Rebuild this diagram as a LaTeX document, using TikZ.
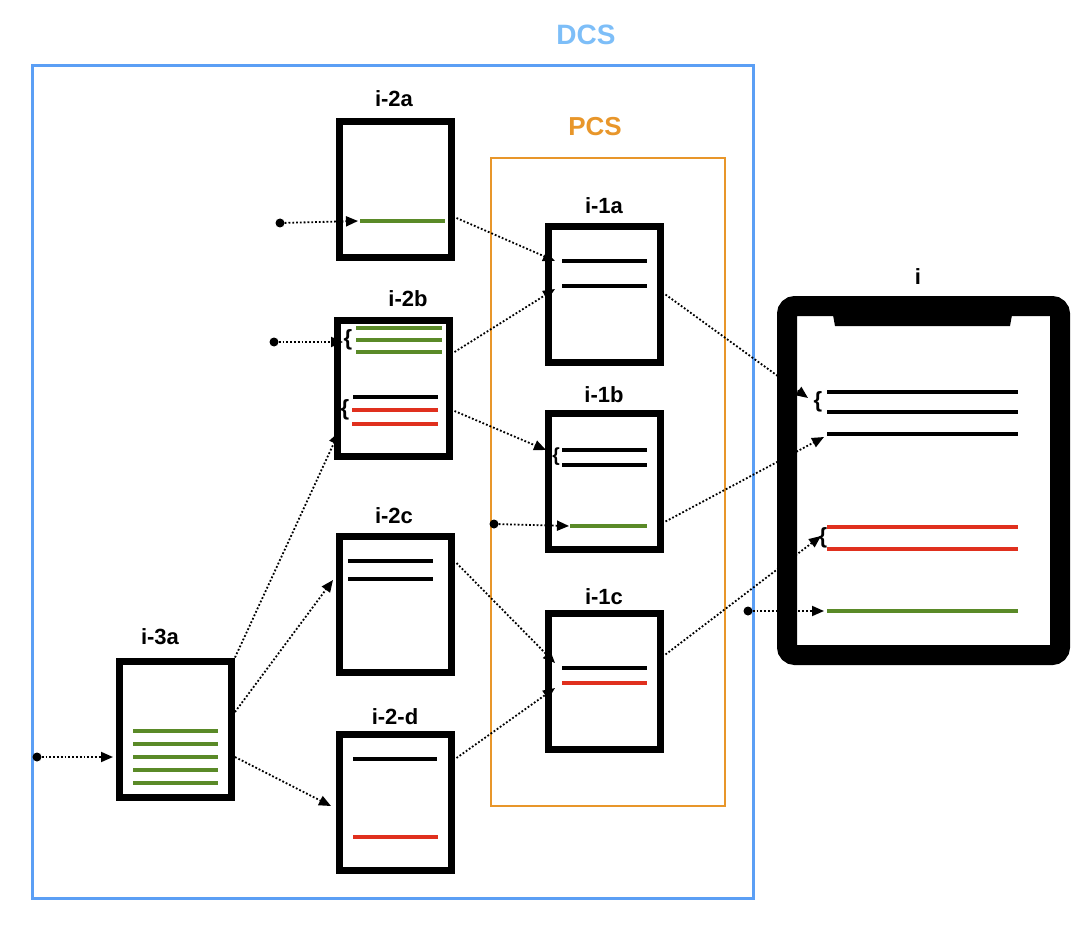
\documentclass[tikz,border=0pt]{standalone}
\usepackage{fontspec}
\setmainfont{Liberation Sans}
\usetikzlibrary{arrows.meta}
\definecolor{dcsblue}{HTML}{5B9FF5}
\definecolor{dcstext}{HTML}{7DBEF8}
\definecolor{pcsorange}{HTML}{E8962A}
\definecolor{lngreen}{HTML}{5A8A28}
\definecolor{lnred}{HTML}{E0301E}
\begin{document}
\begin{tikzpicture}[x=1pt, y=-1pt,
    doc/.style={draw, line width=7pt, minimum width=112pt, minimum height=136pt, inner sep=0pt},
    lbl/.style={font=\fontsize{22}{24}\selectfont\bfseries, inner sep=0pt},
    brc/.style={font=\fontsize{22}{22}\selectfont\bfseries, inner sep=0pt},
    dot/.style={circle, fill=black, inner sep=0pt, minimum size=9pt},
    conn/.style={dotted, line width=1.8pt, -{Triangle[length=12pt, width=10pt]}},
    blk/.style={line width=3.5pt, black},
    grn/.style={line width=3.5pt, lngreen},
    rd/.style={line width=3.5pt, lnred}]
    \useasboundingbox (0,0) rectangle (1090,944);
    % frames
    \draw [dcsblue, line width=3pt] (32,66) rectangle (753,898);
    \node [font=\fontsize{28}{30}\selectfont\bfseries, text=dcstext] (dcs) at (586,35) {DCS};
    \draw [pcsorange, line width=2.5pt] (491,158) rectangle (725,806);
    \node [font=\fontsize{26}{28}\selectfont\bfseries, text=pcsorange] (pcs) at (595,127) {PCS};
    % documents
    \node [doc] (i2a) at (395,190) {};
    \node [doc] (i2b) at (393,388) {};
    \node [doc] (i2c) at (395,604) {};
    \node [doc] (i2d) at (395,802) {};
    \node [doc] (i3a) at (175.5,729) {};
    \node [doc] (i1a) at (604,294.5) {};
    \node [doc] (i1b) at (604,481.5) {};
    \node [doc] (i1c) at (604,681.5) {};
    \node [draw, line width=20pt, rounded corners=8pt, minimum width=273pt, minimum height=349pt, inner sep=0pt] (i) at (923.5,480.5) {};
    \fill [black] (833,315) -- (835,326) -- (1010,326) -- (1012,315) -- cycle;
    % labels
    \node [lbl] (i2a-lbl) at (394,99) {i-2a};
    \node [lbl] (i2b-lbl) at (408,299) {i-2b};
    \node [lbl] (i2c-lbl) at (394,516) {i-2c};
    \node [lbl] (i2d-lbl) at (395,717) {i-2-d};
    \node [lbl] (i3a-lbl) at (160,637) {i-3a};
    \node [lbl] (i1a-lbl) at (604,206) {i-1a};
    \node [lbl] (i1b-lbl) at (604,395) {i-1b};
    \node [lbl] (i1c-lbl) at (604,597) {i-1c};
    \node [lbl] (i-lbl) at (918,277) {i};
    % lines in i-3a
    \foreach \y in {731,744,757,770,783}
        \draw [grn] (133,\y) -- (218,\y);
    % lines in i-2a
    \draw [grn] (360,221) -- (445,221);
    % lines in i-2b
    \foreach \y in {328,340,352}
        \draw [grn] (356,\y) -- (442,\y);
    \node [brc] (b2b-top) at (348,340) {\{};
    \draw [blk] (353,397) -- (438,397);
    \draw [rd] (352,410) -- (438,410);
    \draw [rd] (352,424) -- (438,424);
    \node [brc] (b2b-bot) at (345,410) {\{};
    % lines in i-2c and i-2-d
    \draw [blk] (348,561) -- (433,561);
    \draw [blk] (348,579) -- (433,579);
    \draw [blk] (353,759) -- (437,759);
    \draw [rd] (353,837) -- (438,837);
    % lines in i-1a, i-1b, i-1c
    \draw [blk] (562,261) -- (647,261);
    \draw [blk] (562,286) -- (647,286);
    \draw [blk] (562,450) -- (647,450);
    \draw [blk] (562,465) -- (647,465);
    \node [brc, font=\fontsize{19}{19}\selectfont\bfseries] (b1b) at (556,457) {\{};
    \draw [grn] (570,526) -- (647,526);
    \draw [blk] (562,668) -- (647,668);
    \draw [rd] (562,683) -- (647,683);
    % lines in i
    \foreach \y in {392,412,434}
        \draw [blk] (827,\y) -- (1018,\y);
    \node [brc] (bi-top) at (818,402) {\{};
    \draw [rd] (827,527) -- (1018,527);
    \draw [rd] (827,549) -- (1018,549);
    \node [brc] (bi-mid) at (823,538) {\{};
    \draw [grn] (827,611) -- (1018,611);
    % entry points
    \coordinate (t3a) at (113,757);
    \coordinate (t2a) at (358,221);
    \coordinate (t2b-top) at (343,342);
    \coordinate (t2b-bot) at (339,432);
    \coordinate (t2c) at (333,580);
    \coordinate (t2d) at (331,806);
    \coordinate (t1a-top) at (555,261);
    \coordinate (t1a-bot) at (555,289);
    \coordinate (t1b-top) at (546,450);
    \coordinate (t1b-bot) at (569,526);
    \coordinate (t1c-top) at (555,663);
    \coordinate (t1c-bot) at (555,688);
    \coordinate (ti-top) at (808,398);
    \coordinate (ti-mid) at (824,437);
    \coordinate (ti-bot) at (821,536);
    \coordinate (ti-low) at (824,611);
    % sources
    \node [dot] (s3a) at (37,757) {};
    \node [dot] (s2a) at (280,223) {};
    \node [dot] (s2b) at (274,342) {};
    \node [dot] (s1b) at (494,524) {};
    \node [dot] (si) at (748,611) {};
    % connectors
    \draw [conn] (s3a) -- (t3a);
    \draw [conn] (s2a) -- (t2a);
    \draw [conn] (s2b) -- (t2b-top);
    \draw [conn] (s1b) -- (t1b-bot);
    \draw [conn] (si) -- (ti-low);
    \draw [conn] (i3a.north east) -- (t2b-bot);
    \draw [conn] ([yshift=17pt]i3a.east) -- (t2c);
    \draw [conn] ([yshift=-28pt]i3a.east) -- (t2d);
    \draw [conn] ([xshift=2pt, yshift=-28pt]i2a.east) -- (t1a-top);
    \draw [conn] ([xshift=2pt, yshift=36pt]i2b.east) -- (t1a-bot);
    \draw [conn] ([xshift=2pt, yshift=-23pt]i2b.east) -- (t1b-top);
    \draw [conn] ([xshift=2pt, yshift=41pt]i2c.east) -- (t1c-top);
    \draw [conn] ([xshift=2pt, yshift=44pt]i2d.east) -- (t1c-bot);
    \draw [conn] ([xshift=2pt]i1a.east) -- (ti-top);
    \draw [conn] ([xshift=2pt, yshift=-40pt]i1b.east) -- (ti-mid);
    \draw [conn] ([xshift=2pt, yshift=27pt]i1c.east) -- (ti-bot);
\end{tikzpicture}
\end{document}
